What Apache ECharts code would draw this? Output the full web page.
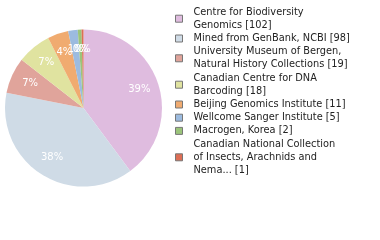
<!DOCTYPE html>
<html><head><meta charset="utf-8">
<script src="https://cdn.jsdelivr.net/npm/echarts@6/dist/echarts.min.js"></script>
<style>html,body{margin:0;padding:0;background:#fff}#c{width:380px;height:240px}</style>
</head><body><div id="c"></div>
<script>
const names = [
  'Centre for Biodiversity\nGenomics [102]',
  'Mined from GenBank, NCBI [98]',
  'University Museum of Bergen,\nNatural History Collections [19]',
  'Canadian Centre for DNA\nBarcoding [18]',
  'Beijing Genomics Institute [11]',
  'Wellcome Sanger Institute [5]',
  'Macrogen, Korea [2]',
  'Canadian National Collection\nof Insects, Arachnids and\nNema... [1]'
];
const values = [102, 98, 19, 18, 11, 5, 2, 1];
const colors = ['#dfbcdf', '#cfdbe6', '#e0a49b', '#e0e3a0', '#f0ab70', '#9cbbdf', '#9bc47a', '#dd6e55'];

const data = names.map((n, i) => ({ name: n, value: values[i], itemStyle: { color: colors[i] } }));
const total = values.reduce((a, b) => a + b, 0);
const chart = echarts.init(document.getElementById('c'), null, { renderer: 'canvas' });
chart.setOption({
  animation: false,
  legend: {
    orient: 'vertical', left: 170, top: 0.5,
    itemWidth: 7, itemHeight: 7, itemGap: 0,
    icon: 'rect',
    itemStyle: { borderColor: '#777', borderWidth: 1 },
    textStyle: { fontFamily: 'DejaVu Sans', fontSize: 9.8, color: '#222', lineHeight: 13.2, padding: [0, 0, 0, 6] },
    data: names
  },
  series: [{
    type: 'pie', center: [83.5, 108], radius: [0, 78.5],
    startAngle: 90, clockwise: true,
    label: { show: false }, labelLine: { show: false },
    emphasis: { disabled: true },
    data: data
  }, {
    type: 'pie', center: [83.5, 108], radius: [0, 111.5],
    startAngle: 90, clockwise: true, silent: true,
    avoidLabelOverlap: false, minShowLabelAngle: 0,
    labelLayout: { hideOverlap: false },
    itemStyle: { color: 'rgba(0,0,0,0)' },
    label: {
      show: true, position: 'inside', color: '#fff',
      fontFamily: 'DejaVu Sans', fontSize: 10,
      formatter: p => Math.floor(p.value / total * 100) + '%'
    },
    labelLine: { show: false },
    emphasis: { disabled: true },
    data: names.map((n, i) => ({ name: n, value: values[i], itemStyle: { color: 'rgba(0,0,0,0)' } }))
  }]
});
</script></body></html>
